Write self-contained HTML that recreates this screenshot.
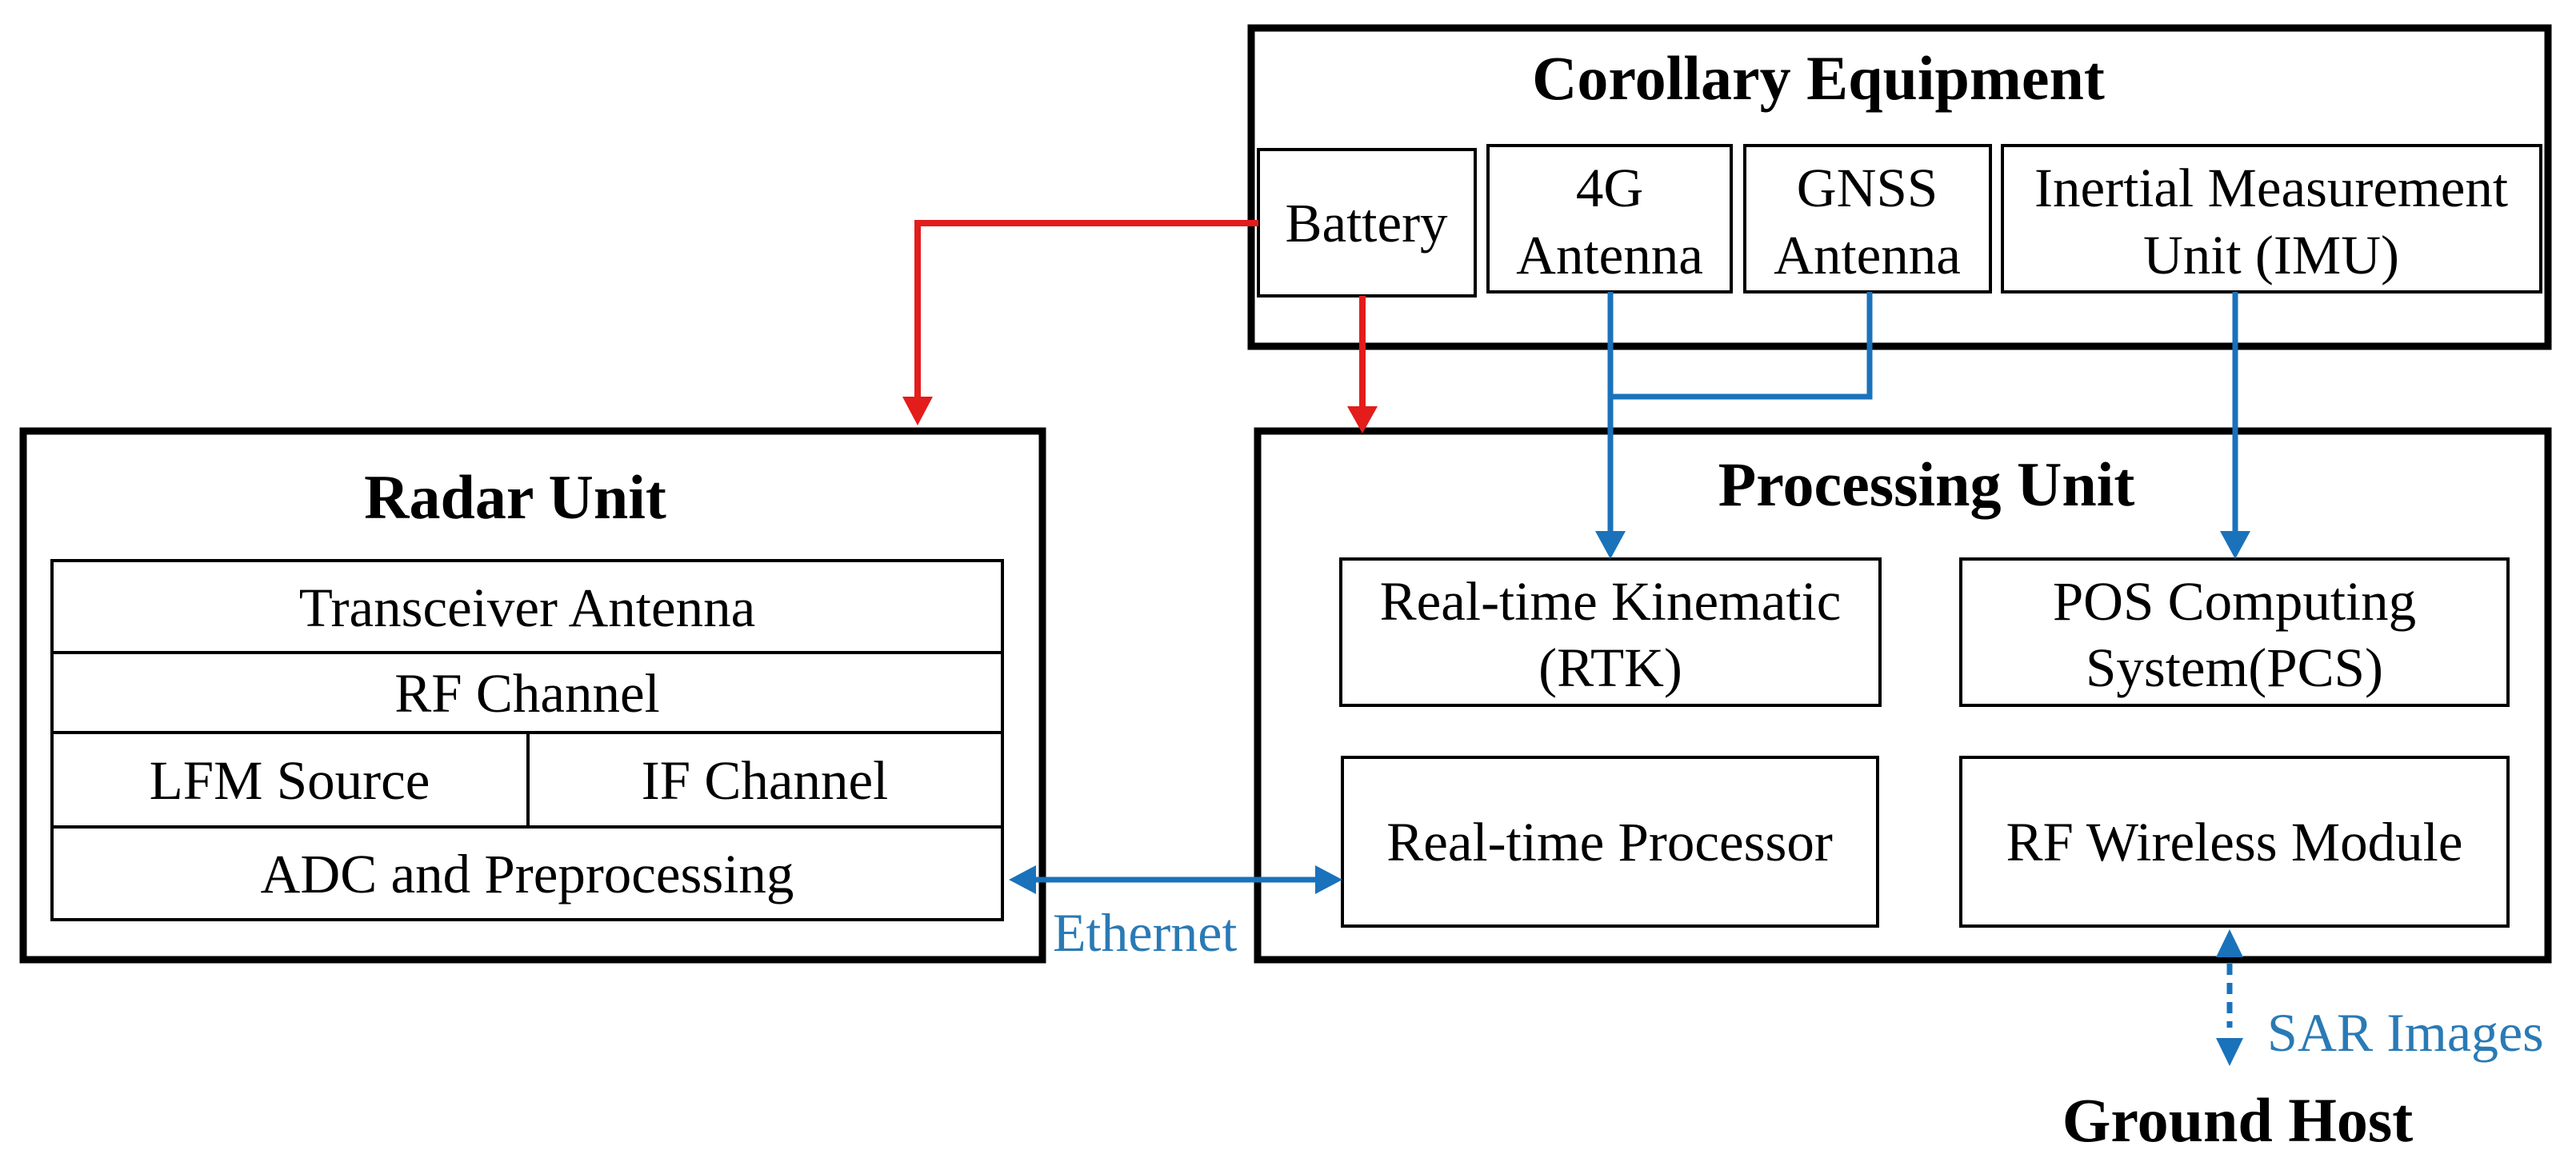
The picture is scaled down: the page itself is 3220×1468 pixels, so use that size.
<!DOCTYPE html>
<html><head><meta charset="utf-8"><style>
html,body{margin:0;padding:0;background:#fff;}
svg{display:block;}
text{font-family:"Liberation Serif",serif;}
</style></head><body>
<svg width="3220" height="1468" viewBox="0 0 3220 1468" xmlns="http://www.w3.org/2000/svg">
<g fill="none" stroke="#000">
  <rect x="1564" y="35" width="1621" height="398" stroke-width="9"/>
  <rect x="29" y="539" width="1274" height="661" stroke-width="9"/>
  <rect x="1572" y="539" width="1613" height="661" stroke-width="9"/>
  <g stroke-width="4">
    <rect x="1573" y="187" width="271" height="183"/>
    <rect x="1860" y="182" width="304" height="183"/>
    <rect x="2181" y="182" width="307" height="183"/>
    <rect x="2503" y="182" width="673" height="183"/>
    <rect x="65" y="701" width="1188" height="449"/>
    <line x1="65" y1="816" x2="1253" y2="816"/>
    <line x1="65" y1="916" x2="1253" y2="916"/>
    <line x1="65" y1="1034" x2="1253" y2="1034"/>
    <line x1="660" y1="916" x2="660" y2="1034"/>
    <rect x="1676" y="699" width="674" height="183"/>
    <rect x="2451" y="699" width="684" height="183"/>
    <rect x="1678" y="947" width="669" height="211"/>
    <rect x="2451" y="947" width="684" height="211"/>
  </g>
</g>
<g stroke="#e31c1c" stroke-width="8" fill="none">
  <polyline points="1573,279 1147,279 1147,500"/>
  <line x1="1703" y1="370" x2="1703" y2="512"/>
</g>
<g fill="#e31c1c">
  <polygon points="1128,496 1166,496 1147,532"/>
  <polygon points="1684,508 1722,508 1703,542"/>
</g>
<g stroke="#1a72bb" stroke-width="7" fill="none">
  <line x1="2013" y1="365" x2="2013" y2="668"/>
  <polyline points="2337,365 2337,496 2013,496"/>
  <line x1="2794" y1="365" x2="2794" y2="668"/>
  <line x1="1285" y1="1100" x2="1650" y2="1100"/>
  <line x1="2787" y1="1205" x2="2787" y2="1285" stroke-dasharray="14,10"/>
</g>
<g fill="#1a72bb">
  <polygon points="1994,664 2032,664 2013,699"/>
  <polygon points="2775,664 2813,664 2794,699"/>
  <polygon points="1261,1100 1295,1082 1295,1118"/>
  <polygon points="1678,1100 1644,1082 1644,1118"/>
  <polygon points="2787,1162 2770,1197 2804,1197"/>
  <polygon points="2787,1333 2770,1298 2804,1298"/>
</g>
<g font-size="78" font-weight="bold" text-anchor="middle" fill="#000">
  <text x="2273" y="124">Corollary Equipment</text>
  <text x="644" y="648">Radar Unit</text>
  <text x="2408" y="632">Processing Unit</text>
  <text x="2797" y="1427">Ground Host</text>
</g>
<g font-size="69" text-anchor="middle" fill="#000">
  <text x="1708" y="302">Battery</text>
  <text x="2012" y="258">4G</text>
  <text x="2012" y="342">Antenna</text>
  <text x="2334" y="258">GNSS</text>
  <text x="2334" y="342">Antenna</text>
  <text x="2839" y="258">Inertial Measurement</text>
  <text x="2839" y="342">Unit (IMU)</text>
  <text x="659" y="783">Transceiver Antenna</text>
  <text x="659" y="890">RF Channel</text>
  <text x="362" y="999">LFM Source</text>
  <text x="956" y="999">IF Channel</text>
  <text x="659" y="1116">ADC and Preprocessing</text>
  <text x="2013" y="775">Real-time Kinematic</text>
  <text x="2013" y="858">(RTK)</text>
  <text x="2793" y="775">POS Computing</text>
  <text x="2793" y="858">System(PCS)</text>
  <text x="2012" y="1076">Real-time Processor</text>
  <text x="2793" y="1076">RF Wireless Module</text>
</g>
<g font-size="68" fill="#2a7ab5">
  <text x="1316" y="1189">Ethernet</text>
  <text x="2834" y="1314">SAR Images</text>
</g>
</svg>
</body></html>
